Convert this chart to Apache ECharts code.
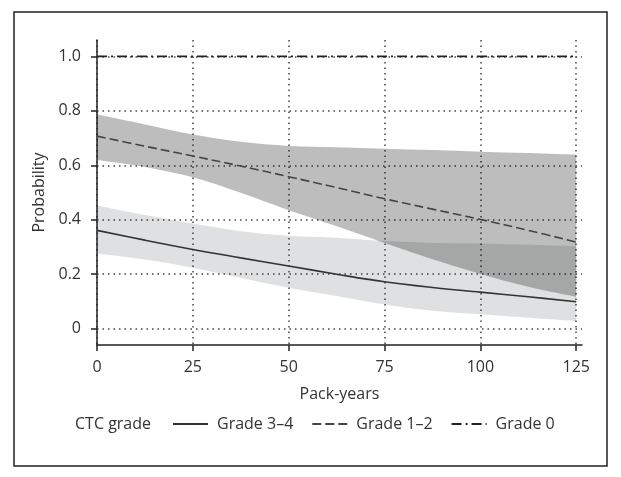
<!DOCTYPE html>
<html>
<head>
<meta charset="utf-8">
<script src="https://cdn.jsdelivr.net/npm/echarts@6/dist/echarts.min.js"></script>
<style>
html,body{margin:0;padding:0;background:#fff;}
#chart{width:621px;height:477px;}
</style>
</head>
<body>
<div id="chart"></div>
<script>
// ---- data ----
var packYears = [0, 12.5, 25, 37.5, 50, 62.5, 75, 87.5, 100, 112.5, 125];
var grade34      = [0.361, 0.325, 0.291, 0.260, 0.230, 0.200, 0.172, 0.151, 0.134, 0.117, 0.099];
var grade34Lower = [0.276, 0.254, 0.224, 0.187, 0.150, 0.120, 0.089, 0.066, 0.053, 0.040, 0.028];
var grade34Upper = [0.452, 0.417, 0.386, 0.358, 0.341, 0.334, 0.322, 0.315, 0.313, 0.308, 0.303];
var grade12      = [0.707, 0.670, 0.634, 0.597, 0.558, 0.518, 0.477, 0.439, 0.401, 0.361, 0.318];
var grade12Lower = [0.619, 0.594, 0.556, 0.499, 0.435, 0.376, 0.315, 0.255, 0.201, 0.154, 0.117];
var grade12Upper = [0.786, 0.750, 0.713, 0.686, 0.671, 0.666, 0.661, 0.656, 0.650, 0.645, 0.639];
var grade0       = [1, 1, 1, 1, 1, 1, 1, 1, 1, 1, 1];
var xTicks = [0, 25, 50, 75, 100, 125];
var yTicks = [0, 0.2, 0.4, 0.6, 0.8, 1.0];
var legendTitle = 'CTC grade';
var seriesNames = ['Grade 3\u20134', 'Grade 1\u20132', 'Grade 0'];

function pairs(ys) { return packYears.map(function (x, i) { return [x, ys[i]]; }); }

// Catmull-Rom spline through pixel points -> SVG path commands
function splineCmds(pts) {
  var s = '';
  for (var i = 0; i < pts.length - 1; i++) {
    var p0 = pts[Math.max(i - 1, 0)], p1 = pts[i], p2 = pts[i + 1], p3 = pts[Math.min(i + 2, pts.length - 1)];
    var c1 = [p1[0] + (p2[0] - p0[0]) / 6, p1[1] + (p2[1] - p0[1]) / 6];
    var c2 = [p2[0] - (p3[0] - p1[0]) / 6, p2[1] - (p3[1] - p1[1]) / 6];
    s += ' C' + c1[0] + ',' + c1[1] + ' ' + c2[0] + ',' + c2[1] + ' ' + p2[0] + ',' + p2[1];
  }
  return s;
}
function bandRenderer(lower, upper, color) {
  return function (params, api) {
    if (params.dataIndex !== 0) return null;
    var up = packYears.map(function (x, i) { return api.coord([x, upper[i]]); });
    var lo = packYears.map(function (x, i) { return api.coord([x, lower[i]]); }).reverse();
    var d = 'M' + up[0][0] + ',' + up[0][1] + splineCmds(up) +
            ' L' + lo[0][0] + ',' + lo[0][1] + splineCmds(lo) + ' Z';
    return {type: 'path', shape: {pathData: d}, style: {fill: color}, silent: true};
  };
}

var FONT = 'Open Sans';
var TXT = '#333';
var FS = 16;

var chart = echarts.init(document.getElementById('chart'), null, {renderer: 'canvas'});
chart.setOption({
  backgroundColor: '#fff',
  animation: false,
  textStyle: {fontFamily: FONT},
  grid: {left: 97, right: 39, top: 40, bottom: 132, containLabel: false},
  legend: {
    data: seriesNames,
    left: 167, top: 411,
    itemWidth: 35, itemHeight: 14, itemGap: 18,
    itemStyle: {opacity: 0},
    textStyle: {fontFamily: FONT, fontSize: FS, color: TXT, padding: [0, 0, 0, 4]},
    selectedMode: false
  },
  graphic: [
    {type: 'rect', shape: {x: 14, y: 12, width: 593, height: 454},
     style: {fill: 'none', stroke: '#222', lineWidth: 1.5}, silent: true},
    {type: 'text', x: 75, y: 424,
     style: {text: legendTitle, fontFamily: FONT, fontSize: FS, fill: TXT, verticalAlign: 'middle'}}
  ],
  xAxis: {
    type: 'value', min: 0, max: 126.5, interval: 25,
    name: 'Pack-years', nameLocation: 'middle', nameGap: 41,
    nameTextStyle: {fontFamily: FONT, fontSize: FS, color: TXT},
    axisLine: {onZero: false, lineStyle: {color: '#222', width: 1.5}},
    axisTick: {show: true, length: 6, lineStyle: {color: '#222', width: 1.5},
      customValues: xTicks},
    axisLabel: {fontFamily: FONT, fontSize: FS, color: TXT, margin: 14,
      customValues: xTicks},
    splitLine: {show: true, lineStyle: {color: '#444', type: [1.5, 4], width: 1.5},
      customValues: xTicks}
  },
  yAxis: {
    type: 'value', min: -0.06, max: 1.06,
    name: 'Probability', nameLocation: 'middle', nameGap: 50,
    nameTextStyle: {fontFamily: FONT, fontSize: FS, color: TXT},
    axisLine: {show: true, onZero: false, lineStyle: {color: '#222', width: 1.5}},
    axisTick: {show: true, length: 6, lineStyle: {color: '#222', width: 1.5},
      customValues: yTicks},
    axisLabel: {fontFamily: FONT, fontSize: FS, color: TXT, margin: 16,
      customValues: yTicks,
      formatter: function (v) { return Math.abs(v) < 1e-9 ? '0' : v.toFixed(1); }},
    splitLine: {show: true, lineStyle: {color: '#444', type: [1.5, 4], width: 1.5},
      customValues: yTicks}
  },
  series: [
    {name: 'band34', type: 'custom', data: pairs(grade34), z: 1, silent: true,
     renderItem: bandRenderer(grade34Lower, grade34Upper, 'rgba(30,35,40,0.14)')},
    {name: 'band12', type: 'custom', data: pairs(grade12), z: 1, silent: true,
     renderItem: bandRenderer(grade12Lower, grade12Upper, 'rgba(0,0,0,0.26)')},
    {name: seriesNames[0], type: 'line', data: pairs(grade34), smooth: 0.4, symbol: 'none',
     itemStyle: {color: '#333'}, lineStyle: {color: '#333', width: 1.6, type: 'solid'}, z: 3},
    {name: seriesNames[1], type: 'line', data: pairs(grade12), smooth: 0.4, symbol: 'none',
     itemStyle: {color: '#444'}, lineStyle: {color: '#444', width: 1.6, type: [9, 4]}, z: 3},
    {name: seriesNames[2], type: 'line', data: pairs(grade0), symbol: 'none',
     itemStyle: {color: '#222'}, lineStyle: {color: '#222', width: 1.6, type: [10, 4, 2, 4]}, z: 3}
  ]
});
</script>
</body>
</html>
